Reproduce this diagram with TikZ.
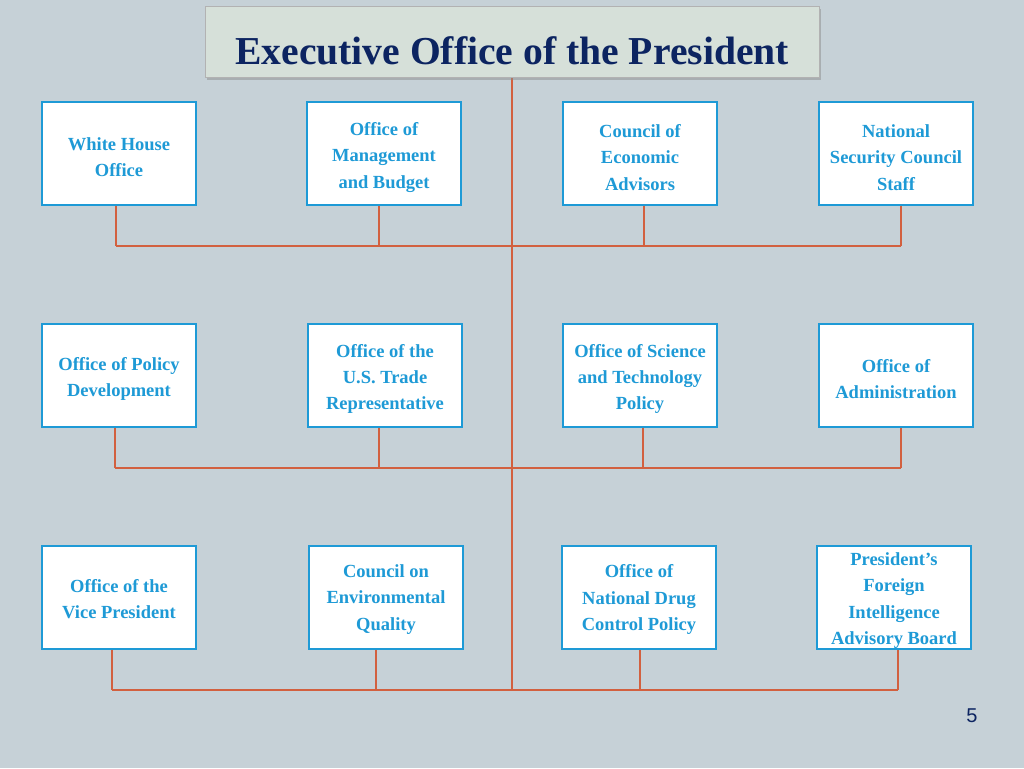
\documentclass[tikz,border=0pt]{standalone}
\usepackage{fontspec}
\setmainfont{Liberation Serif}
\setsansfont{Liberation Sans}
\usetikzlibrary{shadows}
\definecolor{bgc}{HTML}{C6D1D7}
\definecolor{ttlfill}{HTML}{D6E0D9}
\definecolor{ttlc}{HTML}{0C2461}
\definecolor{boxc}{HTML}{1E9AD6}
\definecolor{linec}{HTML}{D2603F}
\newcommand{\lbl}[2]{\raisebox{#1}[\height][\depth]{\parbox{152pt}{\centering #2}}}
\tikzset{
  office/.style={draw=boxc, line width=1.2pt, fill=white, minimum width=154pt, minimum height=103pt,
    inner sep=0pt, align=center, text=boxc,
    font=\fontsize{18.5}{26.2}\selectfont\bfseries},
  conn/.style={draw=linec, line width=1.8pt},
}
\begin{document}
\begin{tikzpicture}[x=1pt,y=-1pt]
\fill[bgc] (0,0) rectangle (1024,768);
\useasboundingbox (0,0) rectangle (1024,768);
% trunk and buses
\coordinate (top) at (512,77);
\coordinate (t3) at (512,690);
\coordinate (l1) at (116,246); \coordinate (r1) at (901,246);
\coordinate (l2) at (115,468); \coordinate (r2) at (901,468);
\coordinate (l3) at (112,690); \coordinate (r3) at (898,690);
\draw[conn] (top) -- (t3);
\draw[conn] (l1) -- (r1);
\draw[conn] (l2) -- (r2);
\draw[conn] (l3) -- (r3);
% title
\node[draw=gray!60, fill=ttlfill, minimum width=614pt, minimum height=71pt, inner sep=0pt,
  drop shadow={shadow xshift=2pt, shadow yshift=-3pt, fill=black!45, opacity=0.5},
  text=ttlc, font=\fontsize{39.6}{44}\selectfont\bfseries] (ttl) at (512,41.5) {\raisebox{-9pt}[\height][\depth]{Executive Office of the President}};
% row 1
\node[office] (a1) at (119,153.5) {\lbl{-3.5pt}{White House\\Office}};
\node[office] (a2) at (384,153.5) {\lbl{-4pt}{Office of\\Management\\and Budget}};
\node[office] (a3) at (640,153.5) {\lbl{-4pt}{Council of\\Economic\\Advisors}};
\node[office] (a4) at (896,153.5) {\lbl{-4pt}{National\\Security Council\\Staff}};
% row 2
\node[office] (b1) at (119,375.5) {\lbl{-3.5pt}{Office of Policy\\Development}};
\node[office] (b2) at (385,375.5) {\lbl{-3.5pt}{Office of the\\U.S. Trade\\Representative}};
\node[office] (b3) at (640,375.5) {\lbl{-3.5pt}{Office of Science\\and Technology\\Policy}};
\node[office] (b4) at (896,375.5) {\lbl{-3.5pt}{Office of\\Administration}};
% row 3
\node[office] (c1) at (119,597.5) {\lbl{-2pt}{Office of the\\Vice President}};
\node[office] (c2) at (386,597.5) {\lbl{-2pt}{Council on\\Environmental\\Quality}};
\node[office] (c3) at (639,597.5) {\lbl{-2pt}{Office of\\National Drug\\Control Policy}};
\node[office] (c4) at (894,597.5) {\lbl{-3pt}{President’s\\Foreign\\Intelligence\\Advisory Board}};
% drops
\draw[conn] (a1.south -| l1) -- (l1);
\draw[conn] (a2.south -| 379,0) -- (379,246);
\draw[conn] (a3.south -| 644,0) -- (644,246);
\draw[conn] (a4.south -| r1) -- (r1);
\draw[conn] (b1.south -| l2) -- (l2);
\draw[conn] (b2.south -| 379,0) -- (379,468);
\draw[conn] (b3.south -| 643,0) -- (643,468);
\draw[conn] (b4.south -| r2) -- (r2);
\draw[conn] (c1.south -| l3) -- (l3);
\draw[conn] (c2.south -| 376,0) -- (376,690);
\draw[conn] (c3.south -| 640,0) -- (640,690);
\draw[conn] (c4.south -| r3) -- (r3);
% page number
\node[text=ttlc, font=\sffamily\fontsize{20}{24}\selectfont] (pg) at (972,716) {5};
\end{tikzpicture}
\end{document}
